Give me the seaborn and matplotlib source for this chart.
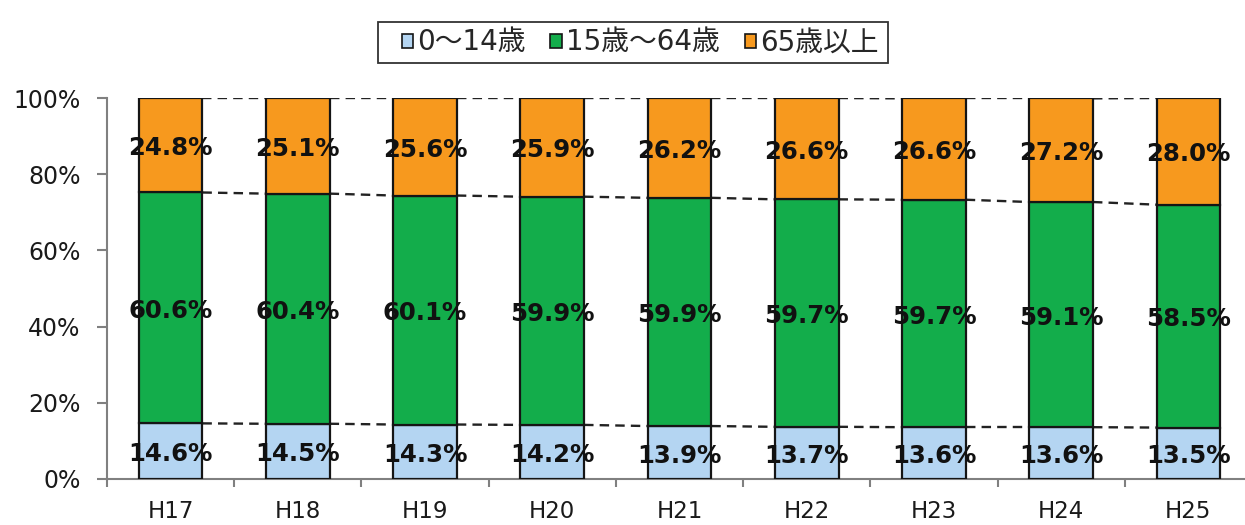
import numpy as np
import pandas as pd
import matplotlib
matplotlib.use("Agg")
import matplotlib.pyplot as plt
from matplotlib.patches import Patch, Rectangle
from matplotlib.ticker import FixedLocator, PercentFormatter
import seaborn as sns

# Population share by age group (%), fiscal years H17-H25
years = ["H17", "H18", "H19", "H20", "H21", "H22", "H23", "H24", "H25"]
age_0_14 = [14.6, 14.5, 14.3, 14.2, 13.9, 13.7, 13.6, 13.6, 13.5]
age_15_64 = [60.6, 60.4, 60.1, 59.9, 59.9, 59.7, 59.7, 59.1, 58.5]
age_65_up = [24.8, 25.1, 25.6, 25.9, 26.2, 26.6, 26.6, 27.2, 28.0]
group_labels = ["0～14歳", "15歳～64歳", "65歳以上"]

colors = ["#B4D5F2", "#13AD4B", "#F7991E"]
edge = "#151515"

sns.set_theme(style="white")
plt.rcParams["font.family"] = ["DejaVu Sans", "Noto Sans CJK JP"]

W, H = 1245, 525
fig = plt.figure(figsize=(W / 100, H / 100), dpi=100)
ax = fig.add_axes([107 / W, 46 / H, 1145 / W, 381 / H])

series = [np.array(age_0_14), np.array(age_15_64), np.array(age_65_up)]
bottom = np.zeros(len(years))
tops = []
bar_w = 0.5
for vals, col in zip(series, colors):
    sns.barplot(x=years, y=vals, bottom=bottom, color=col, width=bar_w,
                edgecolor=edge, linewidth=1.6, saturation=1, ax=ax, zorder=3)
    for i, (v, b) in enumerate(zip(vals, bottom)):
        ax.text(i, b + v / 2 - 0.8, f"{v:.1f}%", ha="center", va="center",
                fontsize=17.6, fontweight="bold", color="#111111", zorder=5)
    bottom = bottom + vals
    tops.append(bottom.copy())

# Dashed series lines joining the top of each segment across neighbouring bars
for level in tops:
    for i in range(len(years) - 1):
        ax.plot([i + bar_w / 2, i + 1 - bar_w / 2], [level[i], level[i + 1]],
                ls=(0, (4, 2.6)), color="#222222", lw=1.7, zorder=2)

ax.set_xlim(-0.5, len(years) - 0.5)
ax.set_ylim(0, 100)
ax.yaxis.set_major_locator(FixedLocator([0, 20, 40, 60, 80, 100]))
ax.yaxis.set_major_formatter(PercentFormatter(decimals=0))
ax.set_xlabel("")
ax.set_ylabel("")

for side in ["top", "right"]:
    ax.spines[side].set_visible(False)
for side in ["left", "bottom"]:
    ax.spines[side].set_color("#808080")
    ax.spines[side].set_linewidth(1.5)

ax.tick_params(axis="y", which="major", left=True, length=7, width=1.5,
               color="#808080", labelsize=17, labelcolor="#1a1a1a", pad=12)
ax.tick_params(axis="x", which="major", bottom=False, labelsize=16.5,
               labelcolor="#1a1a1a", pad=9)
ax.xaxis.set_minor_locator(FixedLocator(np.arange(-0.5, len(years), 1.0)))
ax.tick_params(axis="x", which="minor", bottom=True, length=6, width=1.5,
               color="#808080")

# Legend entries on top, inside a plain rectangular box
handles = [Patch(facecolor=c, edgecolor=edge, linewidth=1.2) for c in colors]
fig.legend(handles, group_labels, loc="center", bbox_to_anchor=(640 / W, 1 - 42.5 / H),
           ncol=3, fontsize=20, frameon=False,
           handlelength=0.4, handleheight=0.4, handletextpad=0.15,
           columnspacing=0.9, borderpad=0.2)
fig.add_artist(Rectangle((378 / W, 1 - 63 / H), 510 / W, 41 / H,
                         transform=fig.transFigure, facecolor="none",
                         edgecolor="#333333", linewidth=1.3))

fig.savefig("out.png", dpi=100)
